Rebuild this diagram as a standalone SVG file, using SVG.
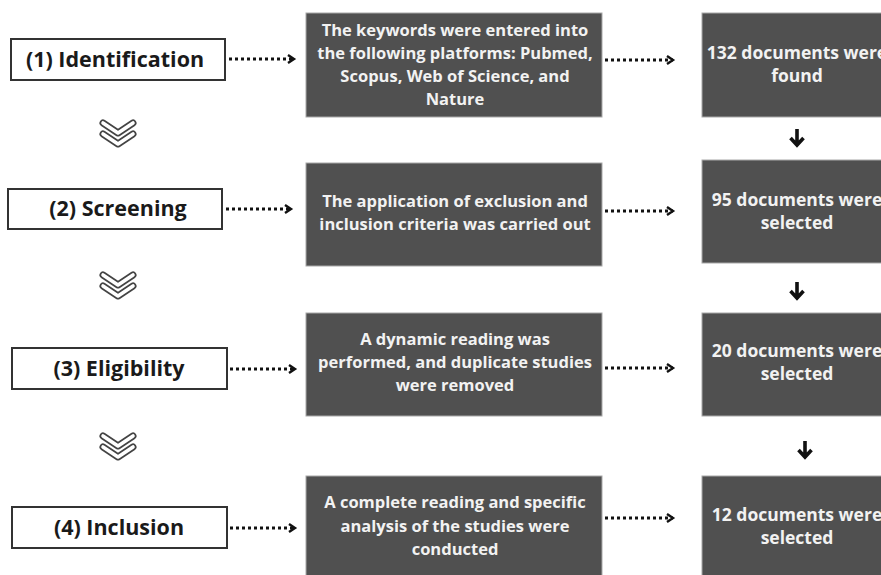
<svg xmlns="http://www.w3.org/2000/svg" width="881" height="575" viewBox="0 0 881 575">
<defs>
<style>
.stage rect{fill:#fff;stroke:#333;stroke-width:2}
.stage text{font-family:"Open Sans","Liberation Sans",sans-serif;font-weight:bold;font-size:21.5px;fill:#1a1a1a;text-anchor:middle}
.dark rect{fill:#505050;stroke:#a8a8a8;stroke-width:1}
.dark text{font-family:"Open Sans","Liberation Sans",sans-serif;font-weight:bold;font-size:16.5px;fill:#f2f2f2;text-anchor:middle}
.res text{font-size:17.5px}
.dot{stroke:#111;stroke-width:3;stroke-dasharray:3 3;fill:none}
.down{stroke:#111;stroke-width:3.6;fill:none}
.chev-o{stroke:#444;stroke-width:7;fill:none;stroke-linecap:round;stroke-linejoin:round}
.chev-i{stroke:#fff;stroke-width:3.6;fill:none;stroke-linecap:round;stroke-linejoin:round}
</style>
<marker id="ah" markerUnits="userSpaceOnUse" markerWidth="12" markerHeight="12" refX="7" refY="5" orient="auto">
<path d="M1,1 L7,5 L1,9" stroke="#111" stroke-width="2.4" fill="none"/>
</marker>
</defs>

<g id="stage1" class="stage"><rect x="11" y="39" width="214" height="41"/><text x="115" y="67">(1) Identification</text></g>
<g id="stage2" class="stage"><rect x="8" y="189" width="214" height="40"/><text x="118" y="216">(2) Screening</text></g>
<g id="stage3" class="stage"><rect x="12" y="348" width="215" height="41"/><text x="119" y="376">(3) Eligibility</text></g>
<g id="stage4" class="stage"><rect x="12" y="507" width="215" height="41"/><text x="119" y="535">(4) Inclusion</text></g>

<g id="chevrons">
<path class="chev-o" d="M103,123 L118,133 L133,123"/><path class="chev-i" d="M103,123 L118,133 L133,123"/>
<path class="chev-o" d="M103,134 L118,144 L133,134"/><path class="chev-i" d="M103,134 L118,144 L133,134"/>
<path class="chev-o" d="M103,275 L118,285 L133,275"/><path class="chev-i" d="M103,275 L118,285 L133,275"/>
<path class="chev-o" d="M103,286 L118,296 L133,286"/><path class="chev-i" d="M103,286 L118,296 L133,286"/>
<path class="chev-o" d="M103,436 L118,446 L133,436"/><path class="chev-i" d="M103,436 L118,446 L133,436"/>
<path class="chev-o" d="M103,447 L118,457 L133,447"/><path class="chev-i" d="M103,447 L118,457 L133,447"/>
</g>

<g id="process1" class="dark"><rect x="306" y="13" width="296" height="104"/>
<text x="455" y="36">The keywords were entered into</text>
<text x="455" y="59">the following platforms: Pubmed,</text>
<text x="455" y="82">Scopus, Web of Science, and</text>
<text x="455" y="105">Nature</text></g>
<g id="process2" class="dark"><rect x="306" y="163" width="296" height="103"/>
<text x="455" y="207">The application of exclusion and</text>
<text x="455" y="230">inclusion criteria was carried out</text></g>
<g id="process3" class="dark"><rect x="306" y="313" width="296" height="103"/>
<text x="455" y="345">A dynamic reading was</text>
<text x="455" y="368">performed, and duplicate studies</text>
<text x="455" y="391">were removed</text></g>
<g id="process4" class="dark"><rect x="306" y="476" width="296" height="104"/>
<text x="455" y="508">A complete reading and specific</text>
<text x="455" y="532">analysis of the studies were</text>
<text x="455" y="555">conducted</text></g>

<g id="result1" class="dark res"><rect x="702" y="13" width="190" height="104"/>
<text x="797" y="59">132 documents were</text><text x="797" y="82">found</text></g>
<g id="result2" class="dark res"><rect x="702" y="160" width="190" height="103"/>
<text x="797" y="206">95 documents were</text><text x="797" y="229">selected</text></g>
<g id="result3" class="dark res"><rect x="702" y="313" width="190" height="103"/>
<text x="797" y="357">20 documents were</text><text x="797" y="380">selected</text></g>
<g id="result4" class="dark res"><rect x="702" y="476" width="190" height="104"/>
<text x="797" y="521">12 documents were</text><text x="797" y="544">selected</text></g>

<g id="connectors">
<line class="dot" x1="229" y1="59" x2="294" y2="59" marker-end="url(#ah)"/>
<line class="dot" x1="226" y1="209" x2="291" y2="209" marker-end="url(#ah)"/>
<line class="dot" x1="230" y1="369" x2="295" y2="369" marker-end="url(#ah)"/>
<line class="dot" x1="230" y1="528" x2="295" y2="528" marker-end="url(#ah)"/>
<line class="dot" x1="605" y1="60" x2="673" y2="60" marker-end="url(#ah)"/>
<line class="dot" x1="605" y1="211" x2="673" y2="211" marker-end="url(#ah)"/>
<line class="dot" x1="605" y1="368" x2="673" y2="368" marker-end="url(#ah)"/>
<line class="dot" x1="605" y1="518" x2="673" y2="518" marker-end="url(#ah)"/>
<path class="down" d="M797,129 V144 M790.5,138 L797,145 L803.5,138"/>
<path class="down" d="M797,282 V297 M790.5,291 L797,298 L803.5,291"/>
<path class="down" d="M805,441 V456 M798.5,450 L805,457 L811.5,450"/>
</g>
</svg>
